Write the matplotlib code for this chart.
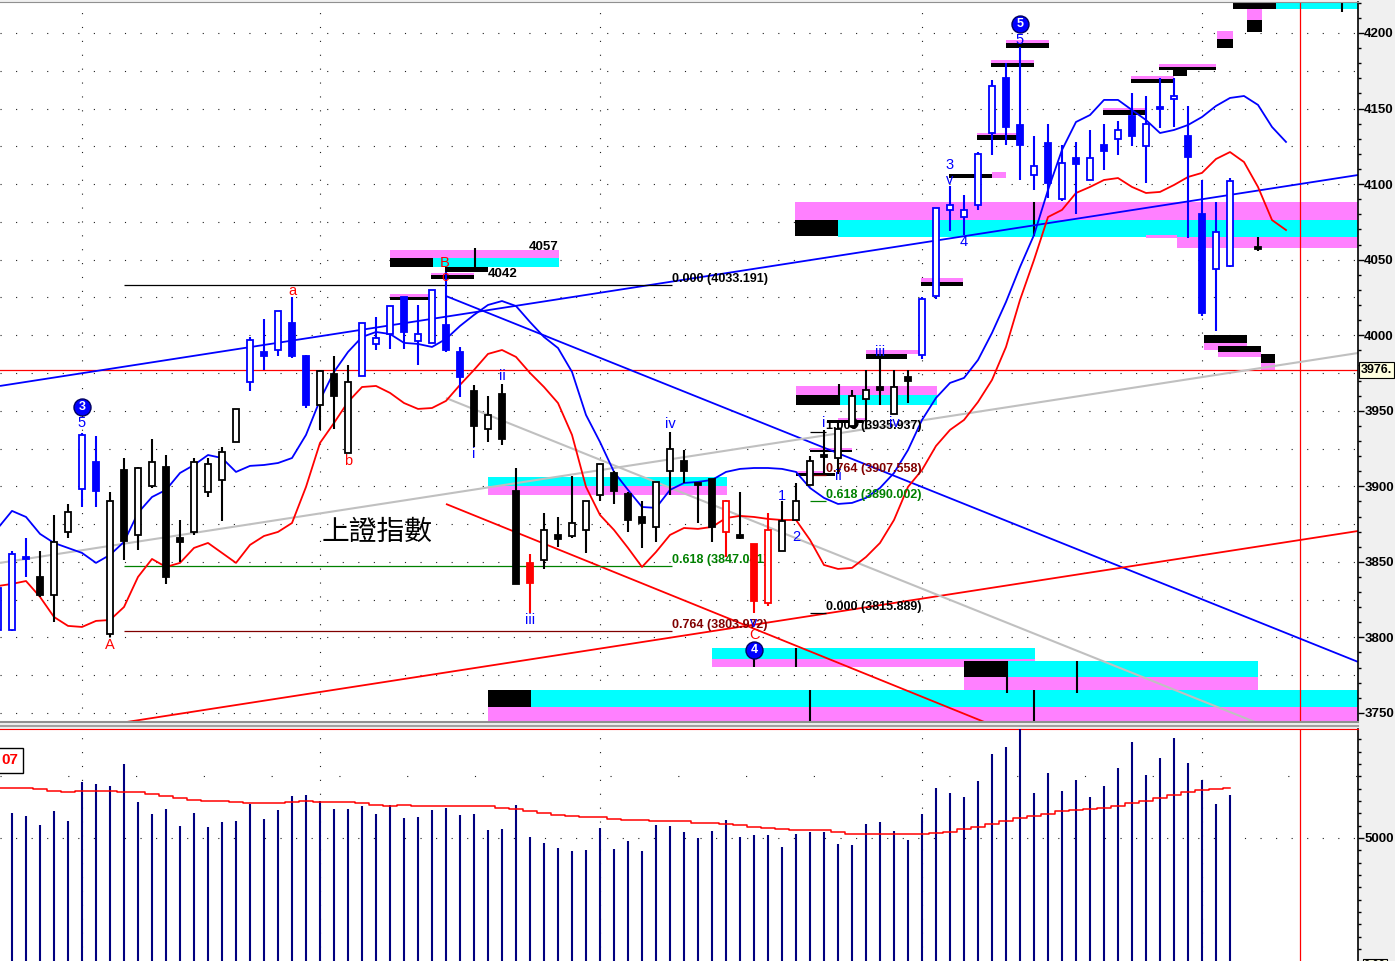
import matplotlib
matplotlib.use("Agg")
import matplotlib.pyplot as plt
from matplotlib.patches import Rectangle
from matplotlib.lines import Line2D
from matplotlib.ticker import FixedLocator, MultipleLocator, FuncFormatter
from matplotlib import font_manager as fm

# ---------------- data ----------------
candle_idx = [-1] + list(range(0, 88)) + [89]
opens = [3805,
         3805, 3853, 3840, 3828, 3870, 3898, 3916, 3802, 3911, 3868,
         3900, 3913, 3866, 3870, 3896, 3904, 3929, 3969, 3989, 3990,
         4008, 3986, 3954, 3974, 3922, 3973, 3994, 4001, 4025, 3996,
         3995, 4007, 3989, 3963, 3938, 3961, 3897, 3849, 3851, 3868,
         3867, 3871, 3894, 3909, 3895, 3880, 3873, 3910, 3917, 3902,
         3905, 3870, 3868, 3862, 3823, 3857, 3878, 3901, 3921, 3919,
         3940, 3958, 3966, 3948, 3972, 3987, 4026, 4083, 4078, 4086,
         4134, 4170, 4139, 4106, 4127, 4090, 4117, 4103, 4126, 4130,
         4145, 4125, 4151, 4156, 4132, 4080, 4044, 4046,
         4058]
highs = [3836,
         3857, 3866, 3857, 3881, 3888, 3935, 3933, 3896, 3919, 3913,
         3931, 3921, 3878, 3919, 3919, 3926, 3951, 3999, 4011, 4016,
         4025, 3987, 3977, 3986, 3980, 4008, 4012, 4019, 4025, 4020,
         4030, 4042, 3992, 3967, 3960, 3968, 3912, 3855, 3882, 3880,
         3907, 3890, 3915, 3910, 3896, 3890, 3903, 3936, 3924, 3902,
         3905, 3891, 3896, 3862, 3882, 3890, 3902, 3920, 3937, 3943,
         3964, 3977, 3986, 3977, 3977, 4025, 4084, 4099, 4093, 4121,
         4169, 4180, 4191, 4132, 4140, 4126, 4128, 4136, 4140, 4142,
         4160, 4158, 4170, 4170, 4152, 4103, 4088, 4104,
         4065]
lows = [3800,
        3804, 3840, 3827, 3810, 3866, 3886, 3886, 3800, 3851, 3858,
        3899, 3835, 3850, 3868, 3893, 3877, 3929, 3963, 3977, 3986,
        3985, 3952, 3937, 3938, 3922, 3973, 3990, 3991, 3991, 3980,
        3995, 3989, 3959, 3926, 3929, 3927, 3835, 3816, 3845, 3860,
        3866, 3856, 3890, 3888, 3870, 3859, 3863, 3894, 3902, 3876,
        3863, 3853, 3865, 3815.9, 3821, 3857, 3878, 3901, 3909, 3908,
        3939, 3938, 3954, 3948, 3955, 3984, 4024, 4069, 4066, 4083,
        4119, 4126, 4103, 4096, 4091, 4089, 4080, 4103, 4109, 4119,
        4125, 4101, 4137, 4138, 4064, 4013, 4003, 4045,
        4056]
closes = [3833,
          3855, 3852, 3828, 3863, 3883, 3934, 3897, 3890, 3864, 3912,
          3916, 3840, 3863, 3916, 3915, 3923, 3951, 3997, 3986, 4016,
          3986, 3954, 3976, 3960, 3969, 4008, 3998, 4019, 4002, 4001,
          4030, 3990, 3972, 3940, 3947, 3931, 3835, 3836, 3871, 3865,
          3876, 3890, 3915, 3897, 3878, 3876, 3903, 3925, 3910, 3901,
          3873, 3890, 3866, 3824, 3871, 3877, 3890, 3917, 3919.5, 3938,
          3960, 3964, 3964, 3966, 3970, 4024, 4084, 4086, 4083, 4120,
          4165, 4138, 4126, 4112, 4101, 4114, 4113, 4117, 4122, 4136,
          4132, 4140, 4149.5, 4158, 4118, 4015, 4068, 4102,
          4057]
candle_colors = ("bbb" + "kkk" + "bb" + "kkkkkkkkkk" + "bbbbb" + "kkk" + "bbbbbbbb"
                 + "kkkk" + "r" + "kkkkkkkkkkkkk" + "r" + "k" + "rr" + "kkkkkkkkkk"
                 + "bbbbbbbbbbbbbbbbbbbbbbb" + "k")

blue_ma = [3872.4, 3883.7, 3879.7, 3868.5, 3862.5, 3859.2, 3855.9, 3849.3, 3854.6, 3863.2,
           3882.4, 3892.9, 3897.6, 3908.8, 3914.1, 3920.7, 3918.7, 3909.5, 3913.5, 3914.1,
           3915.4, 3918.7, 3934.0, 3957.1, 3975.7, 3988.9, 3998.8, 4002.1, 4000.8, 3994.9,
           3994.2, 3992.2, 3997.5, 4006.1, 4013.4, 4020.0, 4022.6, 4019.3, 4008.7, 3998.8,
           3991.5, 3975.7, 3947.2, 3929.3, 3909.5, 3897.6, 3886.3, 3885.7, 3897.6, 3902.2,
           3902.9, 3904.2, 3909.5, 3911.5, 3912.1, 3912.1, 3911.5, 3909.5, 3898.9, 3892.3,
           3888.3, 3889.0, 3892.3, 3898.9, 3908.8, 3924.0, 3943.9, 3958.5, 3968.4, 3971.7,
           3983.6, 4001.5, 4022.0, 4045.1, 4066.3, 4096.1, 4122.6, 4141.1, 4145.7, 4155.7,
           4155.7, 4149.0, 4142.4, 4133.8, 4135.8, 4139.1, 4144.4, 4151.7, 4157.0, 4158.3,
           4152.4, 4137.8, 4127.9]
red_ma = [3834.0, 3835.4, 3837.3, 3826.8, 3813.5, 3807.6, 3806.9, 3810.9, 3811.5, 3820.1,
          3840.0, 3851.9, 3846.6, 3849.3, 3859.2, 3862.5, 3855.9, 3849.3, 3861.2, 3867.1,
          3869.8, 3875.7, 3899.6, 3928.7, 3941.9, 3955.8, 3965.7, 3966.4, 3961.8, 3955.1,
          3951.2, 3951.8, 3956.5, 3967.1, 3977.0, 3987.6, 3990.2, 3985.6, 3975.0, 3965.7,
          3955.1, 3934.0, 3899.6, 3881.0, 3871.1, 3859.2, 3846.6, 3856.5, 3867.8, 3872.4,
          3871.8, 3873.1, 3879.0, 3880.4, 3879.7, 3878.4, 3877.7, 3877.7, 3864.5, 3847.9,
          3845.3, 3846.0, 3853.2, 3862.5, 3877.7, 3899.6, 3910.8, 3926.7, 3937.3, 3943.9,
          3955.8, 3970.4, 3992.2, 4023.3, 4049.8, 4078.2, 4082.9, 4094.1, 4098.1, 4102.7,
          4104.0, 4098.1, 4094.1, 4094.8, 4099.4, 4104.7, 4107.4, 4116.6, 4121.2, 4114.6,
          4098.1, 4076.2, 4069.6]
ma_idx = list(range(-1, -1 + len(blue_ma)))

volume = [5405, 5356, 5211, 5437, 5275, 5907, 5875, 5842, 6199, 5583,
          5389, 5470, 5194, 5405, 5178, 5259, 5275, 5551, 5308, 5454,
          5680, 5697, 5599, 5470, 5470, 5518, 5389, 5535, 5324, 5340,
          5454, 5486, 5373, 5389, 5130, 5146, 5535, 5016, 4919, 4838,
          4789, 4806, 5162, 4822, 4951, 4789, 5211, 5194, 5097, 5000,
          5113, 5292, 5016, 5049, 5049, 4854, 5065, 5097, 5097, 4903,
          4887, 5227, 5259, 5113, 4968, 5389, 5810, 5729, 5664, 5923,
          6361, 6474, 6900, 5729, 6053, 5761, 5940, 5664, 5842, 6134,
          6555, 6021, 6296, 6620, 6215, 5940, 5551, 5697]
vol_idx = list(range(0, len(volume)))
vol_ma = [5805, 5805, 5805, 5789, 5761, 5740, 5757, 5757, 5757, 5740, 5740,
          5713, 5680, 5648, 5616, 5595, 5595, 5583, 5567, 5567, 5567,
          5588, 5595, 5578, 5578, 5578, 5562, 5535, 5518, 5530, 5514,
          5514, 5514, 5514, 5514, 5514, 5481, 5475, 5442, 5400, 5377,
          5352, 5335, 5335, 5313, 5296, 5287, 5275, 5275, 5275, 5248,
          5248, 5222, 5206, 5183, 5167, 5151, 5130, 5130, 5130, 5097,
          5070, 5070, 5070, 5060, 5060, 5060, 5081, 5102, 5141, 5178,
          5227, 5275, 5324, 5352, 5384, 5433, 5454, 5465, 5491, 5518,
          5567, 5599, 5643, 5692, 5740, 5773, 5789, 5805]
vol_ma_idx = list(range(-1, -1 + len(vol_ma)))

price_ticks = [3750, 3800, 3850, 3900, 3950, 4000, 4050, 4100, 4150, 4200]
last_price = 3976.93
last_price_label = "3976."
vol_ma_label = "07"
month_lines = [5, 22, 42, 65, 85]
cursor_idx = 92

MAG, CY, BK = '#ff80ff', '#00ffff', '#000000'
zones = [
    (27.0, 39.07, 4050.9, 4056.4, MAG), (27.0, 30.07, 4045.3, 4050.9, BK),
    (30.07, 39.07, 4045.3, 4050.9, CY), (30.93, 34.0, 4042.0, 4045.3, BK),
    (29.93, 33.0, 4039.7, 4041.4, MAG), (29.93, 33.0, 4037.0, 4039.7, BK),
    (27.0, 30.0, 4025.5, 4027.0, MAG), (27.0, 30.0, 4023.6, 4025.5, BK),
    (55.93, 96.3, 4076.2, 4088.2, MAG), (55.93, 59.0, 4065.7, 4076.2, BK),
    (59.0, 96.3, 4065.0, 4076.2, CY), (81.0, 83.2, 4064.3, 4066.3, MAG),
    (83.2, 96.3, 4057.7, 4065.0, MAG),
    (56.0, 66.07, 3960.4, 3966.4, MAG), (56.0, 59.14, 3953.8, 3960.4, BK),
    (59.14, 66.07, 3953.8, 3960.4, CY),
    (34.0, 51.07, 3900.2, 3906.2, CY), (34.0, 51.07, 3894.3, 3900.2, MAG),
    (50.0, 73.07, 3785.7, 3793.0, CY), (50.0, 73.07, 3780.4, 3785.7, MAG),
    (68.0, 71.07, 3773.8, 3784.4, BK), (71.07, 89.0, 3773.8, 3784.4, CY),
    (68.0, 89.0, 3763.2, 3773.8, MAG),
    (34.0, 37.07, 3754.0, 3765.2, BK), (37.07, 96.3, 3754.0, 3765.2, CY),
    (34.0, 96.3, 3740.0, 3754.0, MAG),
    (87.2, 90.3, 4215.7, 4222.0, BK), (90.3, 96.3, 4215.7, 4222.0, CY),
    (88.2, 89.3, 4208.6, 4215.7, MAG), (88.2, 89.3, 4200.9, 4208.6, BK),
    (86.1, 87.2, 4196.0, 4201.3, MAG), (86.1, 87.2, 4190.3, 4196.0, BK),
    (71.0, 74.07, 4193.2, 4195.4, MAG), (71.0, 74.07, 4189.9, 4193.2, BK),
    (69.93, 73.0, 4180.3, 4182.1, MAG), (69.93, 73.0, 4177.3, 4180.3, BK),
    (81.93, 86.0, 4177.7, 4179.3, MAG), (81.93, 86.0, 4175.5, 4177.7, BK),
    (82.9, 83.9, 4171.5, 4175.5, BK),
    (79.93, 83.0, 4169.4, 4171.5, MAG), (79.93, 83.0, 4167.1, 4169.4, BK),
    (77.93, 80.93, 4149.1, 4150.4, MAG), (77.93, 80.93, 4145.7, 4149.1, BK),
    (68.93, 72.0, 4132.2, 4133.9, MAG), (68.93, 72.0, 4129.2, 4132.2, BK),
    (70.0, 71.0, 4104.0, 4107.8, MAG), (66.93, 70.0, 4103.8, 4106.7, BK),
    (64.93, 67.93, 4035.4, 4037.9, MAG), (64.93, 67.93, 4032.8, 4035.4, BK),
    (61.0, 64.86, 3987.5, 3990.2, MAG), (61.0, 63.93, 3984.3, 3987.5, BK),
    (56.0, 58.0, 3908.6, 3910.1, MAG), (56.0, 58.8, 3907.0, 3908.6, BK),
    (57.0, 60.0, 3924.0, 3925.1, MAG), (57.0, 60.0, 3922.5, 3924.0, BK),
    (59.0, 61.0, 3943.9, 3945.2, MAG), (58.2, 60.8, 3942.1, 3943.9, BK),
    (85.14, 88.2, 3994.6, 4000.1, BK), (85.14, 88.2, 3990.2, 3994.6, MAG),
    (86.14, 89.2, 3989.1, 3992.9, BK), (86.14, 89.2, 3985.8, 3989.1, MAG),
    (89.2, 90.2, 3981.4, 3987.5, BK), (89.2, 90.2, 3977.0, 3981.4, MAG),
]
zone_markers = [(33.07, 4045.0, 4057.7), (73.0, 4065.7, 4088.2), (59.07, 3953.8, 3967.5),
                (56.0, 3780.4, 3793.0), (53.0, 3780.4, 3788.0), (71.07, 3763.2, 3784.4),
                (76.07, 3763.2, 3784.4), (57.0, 3740.0, 3765.2), (73.0, 3740.0, 3765.2),
                (95.0, 4214.0, 4221.0)]

trendlines = [
    (-0.857, 3966.4, 96.14, 4106.0, '#0000ff'),
    (31.0, 4025.9, 96.14, 3783.8, '#0000ff'),
    (31.0, 3888.3, 96.0, 3644.4, '#ff0000'),
    (-0.857, 3731.0, 96.14, 3870.4, '#ff0000'),
    (-0.857, 3849.3, 96.14, 3988.2, '#c0c0c0'),
    (31.0, 3958.4, 96.0, 3717.2, '#c0c0c0'),
]

fib_left = [(4033.191, "0.000 (4033.191)", '#000000'),
            (3847.041, "0.618 (3847.041)", '#008000'),
            (3803.972, "0.764 (3803.972)", '#800000')]
fib_left_span = (8.0, 47.14)
fib_right = [(3935.937, "1.000 (3935.937)", '#000000'),
             (3907.558, "0.764 (3907.558)", '#800000'),
             (3890.002, "0.618 (3890.002)", '#008000'),
             (3815.889, "0.000 (3815.889)", '#000000')]
fib_right_span = (57.0, 58.14)

wave_labels = [
    (5, 3941.9, "5", 'b'), (7, 3795.0, "A", 'r'), (20, 4029.3, "a", 'r'),
    (24, 3916.8, "b", 'r'), (30.93, 4047.8, "B", 'r'), (30.93, 4038.5, "c", 'r'),
    (33, 3921.4, "i", 'b'), (35, 3973.0, "ii", 'b'), (37, 3811.5, "iii", 'b'),
    (47, 3941.2, "iv", 'b'), (53, 3809.6, "v", 'b'), (53, 3801.6, "C", 'r'),
    (55, 3893.6, "1", 'b'), (56, 3866.5, "2", 'b'), (58, 3941.9, "i", 'b'),
    (59, 3906.8, "ii", 'b'), (62, 3988.9, "iii", 'b'), (63, 3941.9, "iv", 'b'),
    (67, 4112.6, "3", 'b'), (67, 4102.7, "v", 'b'), (68, 4061.7, "4", 'b'),
    (72, 4195.4, "5", 'b'),
]
circle_labels = [(5, 3952.5, "3"), (53, 3791.7, "4"), (72, 4206.0, "5")]
level_labels = [(36.9, 4058.4, "4057"), (34.0, 4040.5, "4042")]
title_text = "上證指數"
title_pos = (26.07, 3869.8)

# ---------------- figure ----------------
W, H, DPI = 1395, 961, 100
names = {f.name for f in fm.fontManager.ttflist}
SANS = 'Liberation Sans' if 'Liberation Sans' in names else 'DejaVu Sans'
CJK = 'Noto Sans CJK TC'

fig = plt.figure(figsize=(W / DPI, H / DPI), dpi=DPI, facecolor='#f0f0f0')
ax = fig.add_axes([0, 1 - 722 / H, 1358 / W, 720 / H])
axv = fig.add_axes([0, 0, 1358 / W, 232 / H])
for a in (ax, axv):
    a.set_facecolor('white')
    a.set_xlim(-12 / 14, 1346 / 14)
    a.set_xticks([])
    a.spines['left'].set_visible(False)
    a.spines['right'].set_color('black')
    a.spines['right'].set_linewidth(1.2)
ax.set_ylim(3744.0, 4220.5)
axv.set_ylim(3007, 6766)
ax.spines['top'].set_color('#909090')
ax.spines['bottom'].set_color('#909090')
ax.spines['bottom'].set_linewidth(1.5)
axv.spines['top'].set_color('#ff0000')
axv.spines['bottom'].set_visible(False)

# separator between panels
fig.add_artist(Line2D([0, 1358 / W], [1 - 725.5 / H] * 2, color='#a0a0a0', lw=1.5))

# right axis ticks
for a in (ax, axv):
    a.yaxis.tick_right()
    a.tick_params(axis='y', which='major', direction='out', length=4, width=1,
                  pad=0.5, labelsize=9.5)
    a.tick_params(axis='y', which='minor', direction='out', length=2.5, width=1)
ax.yaxis.set_major_locator(FixedLocator(price_ticks))
ax.yaxis.set_minor_locator(MultipleLocator(10))
ax.yaxis.set_major_formatter(FuncFormatter(lambda v, p: f"{v:.0f}"))
axv.yaxis.set_major_locator(FixedLocator([5000]))
axv.yaxis.set_minor_locator(MultipleLocator(200))
for a in (ax, axv):
    for lab in a.get_yticklabels():
        lab.set_fontfamily(SANS)
        lab.set_fontweight('bold')

# grid dots
for v in range(3750, 4201, 25):
    ax.axhline(v, color='#202020', lw=0.8, ls=(0, (1, 13)), zorder=0.5)
for k in month_lines:
    ax.axvline(k, color='#202020', lw=0.8, ls=(0, (1, 11.5)), zorder=0.5)
    axv.axvline(k, color='#202020', lw=0.8, ls=(0, (1, 11.5)), zorder=0.5)
axv.axhline(5000, color='#202020', lw=0.8, ls=(0, (1, 13)), zorder=0.5)
axv.axhline(6000, color='#202020', lw=0.8, ls=(0, (1, 60)), zorder=0.5)

# zones
for k0, k1, v0, v1, col in zones:
    ax.add_patch(Rectangle((k0, v0), k1 - k0, v1 - v0, facecolor=col, edgecolor='none',
                           zorder=1))
for k, v0, v1 in zone_markers:
    ax.vlines(k, v0, v1, color='black', lw=1.5, zorder=1.2)

# price line & cursor
ax.axhline(last_price, color='#ff0000', lw=0.9, zorder=2)
ax.axvline(cursor_idx, color='#ff0000', lw=0.9, zorder=2)
axv.axvline(cursor_idx, color='#ff0000', lw=0.9, zorder=2)

# trend lines
for k0, v0, k1, v1, col in trendlines:
    ax.plot([k0, k1], [v0, v1], color=col, lw=1.5 if col == '#c0c0c0' else 1.3,
            zorder=2, solid_capstyle='butt')

# fib levels
for v, txt, col in fib_left:
    ax.hlines(v, fib_left_span[0], fib_left_span[1], color=col, lw=0.9, zorder=2)
    ax.text(fib_left_span[1], v, txt, color=col, fontsize=9, fontfamily=SANS,
            fontweight='bold', ha='left', va='bottom', zorder=3.5)
for v, txt, col in fib_right:
    ax.hlines(v, fib_right_span[0], fib_right_span[1], color=col, lw=0.9, zorder=2)
    ax.text(fib_right_span[1], v, txt, color=col, fontsize=9, fontfamily=SANS,
            fontweight='bold', ha='left', va='bottom', zorder=3.5)
ax.scatter([60.07], [3942.1], s=40, color='black', zorder=6)

# moving averages
ax.plot(ma_idx, blue_ma, color='#0000ff', lw=1.3, zorder=3)
ax.plot(ma_idx, red_ma, color='#ff0000', lw=1.3, zorder=3)

# candles
CMAP = {'b': '#0000ff', 'k': '#000000', 'r': '#ff0000'}
bw = 0.4
for k, o, h, l, c, cc in zip(candle_idx, opens, highs, lows, closes, candle_colors):
    col = CMAP[cc]
    ax.vlines(k, l, h, color=col, lw=1.5, zorder=5)
    lo, hi = min(o, c), max(o, c)
    if hi - lo < 1.5:
        mid = (hi + lo) / 2
        lo, hi = mid - 0.75, mid + 0.75
    up = c > o
    ax.add_patch(Rectangle((k - bw / 2, lo), bw, hi - lo,
                           facecolor='white' if up else col, edgecolor=col,
                           lw=1.3, zorder=6))

# labels
LCOL = {'b': '#0000ff', 'r': '#ff0000'}
for k, v, txt, cc in wave_labels:
    ax.text(k, v, txt, color=LCOL[cc], fontsize=10.5, fontfamily=SANS,
            ha='center', va='center', zorder=7)
for k, v, txt in circle_labels:
    ax.scatter([k], [v], s=150, color='#0000ff', edgecolors='#000060', linewidths=1,
               zorder=8)
    ax.text(k, v, txt, color='white', fontsize=9, fontweight='bold', fontfamily=SANS,
            ha='center', va='center', zorder=9)
for k, v, txt in level_labels:
    ax.text(k, v, txt, color='black', fontsize=9.5, fontfamily=SANS,
            fontweight='bold', ha='left', va='center', zorder=7)
ax.text(title_pos[0], title_pos[1], title_text, color='black', fontsize=20,
        fontfamily=[CJK, 'DejaVu Sans'], ha='center', va='center', zorder=7)

# current price box
fig.text(1361 / W, 1 - 370 / H, last_price_label, fontsize=9, fontfamily=SANS,
         fontweight='bold', ha='left', va='center',
         bbox=dict(facecolor='#ffffe0', edgecolor='black', lw=0.8, pad=1.5))
fig.text(1364 / W, 1 - 960 / H, "0.00", fontsize=8, fontfamily=SANS,
         fontweight='bold', ha='left', va='top',
         bbox=dict(facecolor='#ffffe0', edgecolor='black', lw=0.8, pad=1.0))

# volume panel
axv.vlines(vol_idx, 0, volume, color='#000080', lw=1.5, zorder=3)
axv.plot(vol_ma_idx, vol_ma, color='#ff0000', lw=1.1, drawstyle='steps-mid', zorder=4)
fig.text(1 / W, 1 - 760 / H, vol_ma_label, color='#ff0000', fontsize=11,
         fontfamily=SANS, fontweight='bold', ha='left', va='center',
         bbox=dict(facecolor='white', edgecolor='black', lw=1, pad=4))

fig.savefig("out.png", dpi=DPI, facecolor=fig.get_facecolor())
